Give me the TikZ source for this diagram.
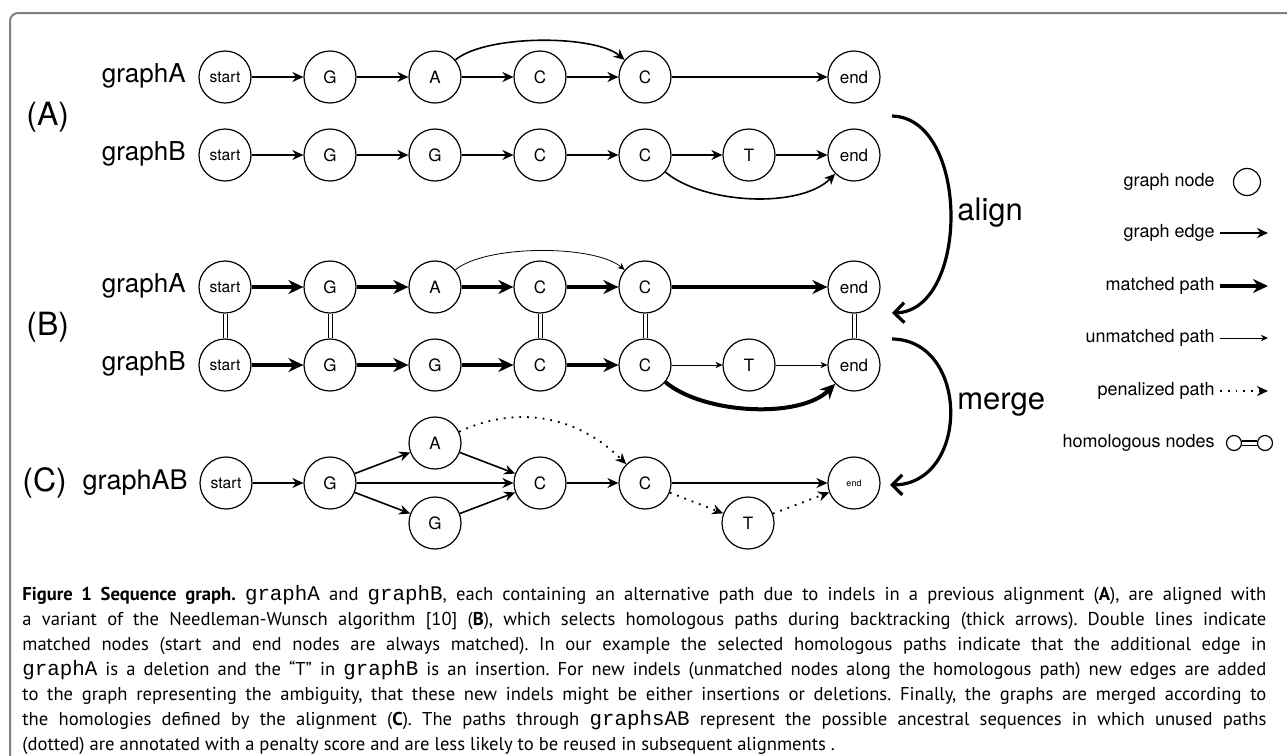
\documentclass[tikz,border=0pt]{standalone}
\usepackage{fontspec}
\setmainfont{TeX Gyre Heros}
\newfontfamily\capfont{PT Sans}
\newfontfamily\capmono[Scale=1.12]{Liberation Mono}
\usetikzlibrary{arrows.meta}

\newcommand\capline[1]{\hbox to 622pt{#1}}

\tikzset{
  gn/.style={draw, circle, minimum size=26pt, inner sep=0pt, line width=0.6pt, font=\fontsize{8.5}{10}\selectfont},
  sm/.style={font=\fontsize{7.8}{9}\selectfont},
  tn/.style={font=\fontsize{4.5}{5}\selectfont},
  gedge/.style={-{Stealth[length=5.5pt,width=5pt]}, line width=0.8pt},
  mpath/.style={-{Stealth[length=7.5pt,width=7pt]}, line width=2pt},
  upath/.style={-{Stealth[length=3.5pt,width=3.2pt]}, line width=0.4pt},
  ppath/.style={-{Stealth[length=5.5pt,width=5pt]}, line width=0.9pt, dash pattern=on 0.9pt off 3pt},
  homol/.style={double, double distance=1.5pt, line width=0.5pt},
  bigarc/.style={-{Straight Barb[length=5pt,width=10pt]}, line width=1.6pt},
  rowlabel/.style={anchor=base east, inner sep=0pt, font=\fontsize{13}{15}\selectfont},
  partlabel/.style={anchor=west, inner sep=0pt, font=\fontsize{16}{18}\selectfont},
  legend/.style={anchor=east, inner sep=2.5pt, font=\fontsize{9}{11}\selectfont},
  capt/.style={anchor=base west, inner sep=0pt, font=\capfont\fontsize{9.3}{11}\selectfont\frenchspacing},
}

\begin{document}
\begin{tikzpicture}[x=0.5pt, y=-0.5pt]
    \useasboundingbox (0,0) rectangle (1287,756);
    \draw[gray, line width=1pt, rounded corners=4pt] (10,770) -- (10,13) -- (1300,13);

    \node[partlabel] (pA) at (26,117) {(A)};
    \node[rowlabel] (lA1) at (186,82) {graphA};
    \node[rowlabel] (lA2) at (186,160) {graphB};

    \node[gn, sm] (a1s) at (225,77) {start};
    \node[gn] (a1g) at (330,77) {G};
    \node[gn] (a1a) at (435,77) {A};
    \node[gn] (a1c) at (540,77) {C};
    \node[gn] (a1d) at (645,77) {C};
    \node[gn] (a1e) at (854,77) {end};
    \draw[gedge] (a1s) -- (a1g);
    \draw[gedge] (a1g) -- (a1a);
    \draw[gedge] (a1a) -- (a1c);
    \draw[gedge] (a1c) -- (a1d);
    \draw[gedge] (a1d) -- (a1e);
    \draw[gedge] (a1a) to[out=40, in=140, looseness=0.6] (a1d);

    \node[gn, sm] (b1s) at (225,155) {start};
    \node[gn] (b1g) at (330,155) {G};
    \node[gn] (b1h) at (435,155) {G};
    \node[gn] (b1c) at (540,155) {C};
    \node[gn] (b1d) at (645,155) {C};
    \node[gn] (b1t) at (749,155) {T};
    \node[gn] (b1e) at (854,155) {end};
    \draw[gedge] (b1s) -- (b1g);
    \draw[gedge] (b1g) -- (b1h);
    \draw[gedge] (b1h) -- (b1c);
    \draw[gedge] (b1c) -- (b1d);
    \draw[gedge] (b1d) -- (b1t);
    \draw[gedge] (b1t) -- (b1e);
    \draw[gedge] (b1d) to[out=-40, in=-135, looseness=0.75] (b1e);

    \node[partlabel] (pB) at (26,327) {(B)};
    \node[rowlabel] (lB1) at (186,292) {graphA};
    \node[rowlabel] (lB2) at (186,370) {graphB};

    \node[gn, sm] (a2s) at (225,287) {start};
    \node[gn] (a2g) at (330,287) {G};
    \node[gn] (a2a) at (435,287) {A};
    \node[gn] (a2c) at (540,287) {C};
    \node[gn] (a2d) at (645,287) {C};
    \node[gn] (a2e) at (854,287) {end};
    \draw[mpath] (a2s) -- (a2g);
    \draw[mpath] (a2g) -- (a2a);
    \draw[mpath] (a2a) -- (a2c);
    \draw[mpath] (a2c) -- (a2d);
    \draw[mpath] (a2d) -- (a2e);
    \draw[upath] (a2a) to[out=40, in=140, looseness=0.6] (a2d);

    \node[gn, sm] (b2s) at (225,365) {start};
    \node[gn] (b2g) at (330,365) {G};
    \node[gn] (b2h) at (435,365) {G};
    \node[gn] (b2c) at (540,365) {C};
    \node[gn] (b2d) at (645,365) {C};
    \node[gn] (b2t) at (749,365) {T};
    \node[gn] (b2e) at (854,365) {end};
    \draw[mpath] (b2s) -- (b2g);
    \draw[mpath] (b2g) -- (b2h);
    \draw[mpath] (b2h) -- (b2c);
    \draw[mpath] (b2c) -- (b2d);
    \draw[upath] (b2d) -- (b2t);
    \draw[upath] (b2t) -- (b2e);
    \draw[mpath] (b2d) to[out=-40, in=-135, looseness=0.75] (b2e);

    \draw[homol] (a2s) -- (b2s);
    \draw[homol] (a2g) -- (b2g);
    \draw[homol] (a2c) -- (b2c);
    \draw[homol] (a2d) -- (b2d);
    \draw[homol] (a2e) -- (b2e);

    \node[partlabel] (pC) at (22,483) {(C)};
    \node[rowlabel, font=\fontsize{13.5}{15}\selectfont] (lC) at (188,489) {graphAB};

    \node[gn, sm] (cs) at (226,483) {start};
    \node[gn] (cg) at (330,483) {G};
    \node[gn] (ca) at (435,443) {A};
    \node[gn] (ch) at (435,523) {G};
    \node[gn] (cc) at (540,483) {C};
    \node[gn] (cd) at (645,483) {C};
    \node[gn] (ct) at (748,523) {T};
    \node[gn, tn] (ce) at (854,483) {end};
    \draw[gedge] (cs) -- (cg);
    \draw[gedge] (cg) -- (ca);
    \draw[gedge] (cg) -- (cc);
    \draw[gedge] (cg) -- (ch);
    \draw[gedge] (ca) -- (cc);
    \draw[gedge] (ch) -- (cc);
    \draw[gedge] (cc) -- (cd);
    \draw[gedge] (cd) -- (ce);
    \draw[ppath] (ca) to[out=25, in=135] (cd);
    \draw[ppath] (cd) -- (ct);
    \draw[ppath] (ct) -- (ce);

    \coordinate (alS) at (892,116);
    \coordinate (alE) at (892,313);
    \draw[bigarc] (alS) .. controls (970,118) and (970,311) .. (alE);
    \node[anchor=west, inner sep=0pt, font=\fontsize{15.5}{17}\selectfont] (tal) at (957,213) {align};
    \coordinate (meS) at (892,339);
    \coordinate (meE) at (890,485);
    \draw[bigarc] (meS) .. controls (970,340) and (970,484) .. (meE);
    \node[anchor=west, inner sep=0pt, font=\fontsize{15.5}{17}\selectfont] (tme) at (957,405) {merge};

    \node[legend] (lg1) at (1220,182) {graph node};
    \node[gn, minimum size=13.5pt] (lgn) at (1247,182) {};
    \node[legend] (lg2) at (1220,233) {graph edge};
    \coordinate (lg2e) at (1268,233);
    \draw[gedge] (lg2) -- (lg2e);
    \node[legend] (lg3) at (1220,286) {matched path};
    \coordinate (lg3e) at (1268,286);
    \draw[mpath] (lg3) -- (lg3e);
    \node[legend] (lg4) at (1220,338) {unmatched path};
    \coordinate (lg4e) at (1268,338);
    \draw[upath] (lg4) -- (lg4e);
    \node[legend] (lg5) at (1220,391) {penalized path};
    \coordinate (lg5e) at (1268,391);
    \draw[ppath] (lg5) -- (lg5e);
    \node[legend] (lg6) at (1220,443) {homologous nodes};
    \node[gn, minimum size=7.5pt] (hn1) at (1234,443) {};
    \node[gn, minimum size=7.5pt] (hn2) at (1265,443) {};
    \draw[homol, line width=0.8pt] (hn1) -- (hn2);

    \node[capt] (cap1) at (22,600) {\capline{\textbf{Figure 1 Sequence graph.} {\capmono graphA} and {\capmono graphB}, each containing an alternative path due to indels in a previous alignment (\textbf{A}), are aligned with}};
    \node[capt] (cap2) at (22,625) {\capline{a variant of the Needleman-Wunsch algorithm [10] (\textbf{B}), which selects homologous paths during backtracking (thick arrows). Double lines indicate}};
    \node[capt] (cap3) at (22,650) {\capline{matched nodes (start and end nodes are always matched). In our example the selected homologous paths indicate that the additional edge in}};
    \node[capt] (cap4) at (22,675) {\capline{{\capmono graphA} is a deletion and the “T” in {\capmono graphB} is an insertion. For new indels (unmatched nodes along the homologous path) new edges are added}};
    \node[capt] (cap5) at (22,700) {\capline{to the graph representing the ambiguity, that these new indels might be either insertions or deletions. Finally, the graphs are merged according to}};
    \node[capt] (cap6) at (22,725) {\capline{the homologies defined by the alignment (\textbf{C}). The paths through {\capmono graphsAB} represent the possible ancestral sequences in which unused paths}};
    \node[capt] (cap7) at (22,750) {(dotted) are annotated with a penalty score and are less likely to be reused in subsequent alignments .};

\end{tikzpicture}
\end{document}
